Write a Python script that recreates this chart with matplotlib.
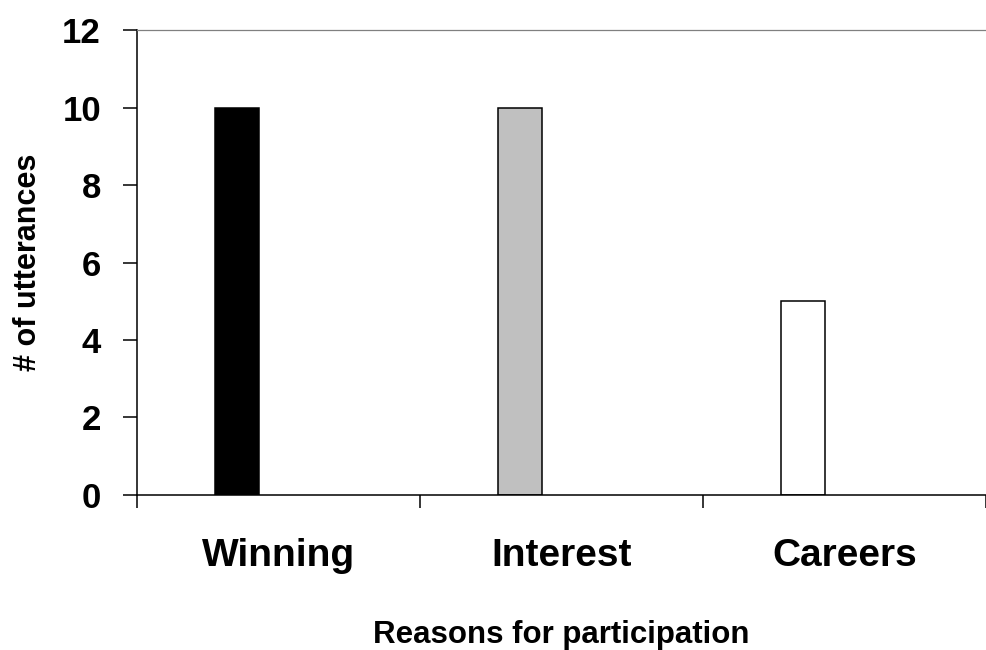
import matplotlib.pyplot as plt

plt.rcParams['font.family'] = ['Liberation Sans', 'DejaVu Sans']
plt.rcParams['font.weight'] = 'bold'

categories = ["Winning", "Interest", "Careers"]
utterances = [10, 10, 5]
bar_colors = ["#000000", "#c0c0c0", "#ffffff"]

fig = plt.figure(figsize=(9.86, 6.5), dpi=100)
ax = fig.add_axes([0.139, 0.2385, 0.861, 0.7153])

width = 0.154
slots = range(len(categories))
# each bar sits in the first position of a three-wide group
ax.bar([i + 0.5 - 0.147 for i in slots], utterances, width=width,
       align='center', color=bar_colors, edgecolor='black', linewidth=1.1)

ax.set_ylim(0, 12)
ax.set_yticks(range(0, 13, 2))
ax.set_xlim(0, 2.96)
ax.set_xticks([0, 1, 2, 3])
ax.set_xticklabels([])
ax.set_xticks([i + 0.5 for i in slots], minor=True)
ax.set_xticklabels(categories, minor=True, fontsize=28, fontweight='bold')

ax.tick_params(axis='y', direction='out', length=10, width=1.1, pad=16,
               labelsize=25)
ax.tick_params(axis='x', which='major', direction='out', length=9, width=1.1)
ax.tick_params(axis='x', which='minor', length=0, pad=31)

for side in ('left', 'bottom'):
    ax.spines[side].set_linewidth(1.1)
ax.spines['top'].set_color('#808080')
ax.spines['top'].set_linewidth(0.9)
ax.spines['right'].set_visible(False)

ax.set_xlabel("Reasons for participation", fontsize=22.5, fontweight='bold',
              labelpad=33)
ax.set_ylabel("# of utterances", fontsize=22, fontweight='bold', labelpad=14)

fig.savefig("out.png", dpi=100)
